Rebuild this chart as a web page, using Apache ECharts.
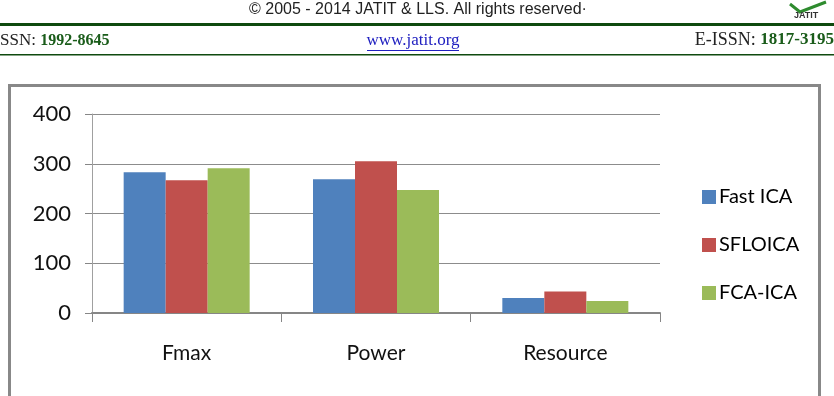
<!DOCTYPE html>
<html>
<head>
<meta charset="utf-8">
<script src="https://cdn.jsdelivr.net/npm/echarts@6/dist/echarts.min.js"></script>
<style>
  html, body { margin: 0; padding: 0; background: #fff; }
  #chart { width: 834px; height: 396px; }
</style>
</head>
<body>
<div id="chart"></div>
<script>
// values
var categories = ['Fmax', 'Power', 'Resource'];
var seriesNames = ['Fast ICA', 'SFLOICA', 'FCA-ICA'];
var fastIca = [283, 269, 30];
var sfloica = [267, 305, 43];
var fcaIca = [291, 247, 24];
var yTicks = [0, 100, 200, 300, 400];

var colors = ['#4F81BD', '#C0504D', '#9BBB59'];
var font = 'Lato, "Open Sans", sans-serif';
var green = '#1a5c1a';

var chart = echarts.init(document.getElementById('chart'));

var option = {
    backgroundColor: '#fff',
    animation: false,
    color: colors,
    grid: { left: 92, right: 174, top: 114, bottom: 83 },
    legend: {
        orient: 'vertical',
        left: 697,
        top: 182,
        itemWidth: 14,
        itemHeight: 14,
        itemGap: 28,
        icon: 'rect',
        data: seriesNames,
        textStyle: { fontFamily: font, fontSize: 20, color: '#000', padding: [0, 0, 0, -2] }
    },
    xAxis: {
        type: 'category',
        data: categories,
        axisLine: { lineStyle: { color: '#868686', width: 2 } },
        axisTick: { show: true, length: 9, lineStyle: { color: '#868686' } },
        axisLabel: { margin: 30, fontFamily: font, fontSize: 21, color: '#111' }
    },
    yAxis: {
        type: 'value',
        min: yTicks[0],
        max: yTicks[yTicks.length - 1],
        interval: 100,
        axisLine: { show: true, lineStyle: { color: '#a0a0a0', width: 1 } },
        axisTick: { show: true, length: 7, lineStyle: { color: '#868686' } },
        axisLabel: { margin: 21, fontFamily: font, fontSize: 22, color: '#111' },
        splitLine: { lineStyle: { color: '#8c8c8c', width: 1 } }
    },
    series: [
        { name: seriesNames[0], type: 'bar', data: fastIca, barWidth: 42, barGap: '0%' },
        { name: seriesNames[1], type: 'bar', data: sfloica, barWidth: 42, barGap: '0%' },
        { name: seriesNames[2], type: 'bar', data: fcaIca, barWidth: 42, barGap: '0%' }
    ],
    graphic: [
        // page header
        {
            type: 'text', x: 418, y: 2,
            style: { text: '© 2005 - 2014 JATIT & LLS. All rights reserved·', font: '16px "Liberation Sans", Arial', fill: '#222', align: 'center' }
        },
        { type: 'rect', shape: { x: 0, y: 23, width: 834, height: 3 }, style: { fill: '#0f4a0f' } },
        { type: 'rect', shape: { x: 0, y: 54, width: 834, height: 1.5 }, style: { fill: '#0f4a0f' } },
        {
            type: 'text', x: 0, y: 32,
            style: {
                text: '{a|SSN: }{b|1992-8645}',
                rich: {
                    a: { font: '17px "Liberation Serif", serif', fill: '#222' },
                    b: { font: 'bold 16px "Liberation Serif", serif', fill: green }
                }
            }
        },
        {
            type: 'text', x: 413, y: 32,
            style: { text: 'www.jatit.org', font: '17px "Liberation Serif", serif', fill: '#2020c0', align: 'center' }
        },
        { type: 'rect', shape: { x: 367, y: 50, width: 92, height: 1 }, style: { fill: '#2020c0' } },
        {
            type: 'text', x: 834, y: 31,
            style: {
                text: '{a|E-ISSN: }{b|1817-3195}',
                align: 'right',
                rich: {
                    a: { font: '18px "Liberation Serif", serif', fill: '#222' },
                    b: { font: 'bold 17px "Liberation Serif", serif', fill: green }
                }
            }
        },
        // logo
        {
            type: 'polyline',
            shape: { points: [[790, 4], [800, 12], [826, 2]] },
            style: { stroke: '#2e8b2e', lineWidth: 3, fill: null }
        },
        {
            type: 'text', x: 794, y: 11,
            style: { text: 'JATIT', font: 'bold 9px "Liberation Sans", Arial', fill: '#333' }
        },
        // frame around the figure
        {
            type: 'rect', z: -1,
            shape: { x: 9.5, y: 85.5, width: 810, height: 330 },
            style: { fill: null, stroke: '#888', lineWidth: 3 }
        }
    ]
};

chart.setOption(option);
</script>
</body>
</html>
